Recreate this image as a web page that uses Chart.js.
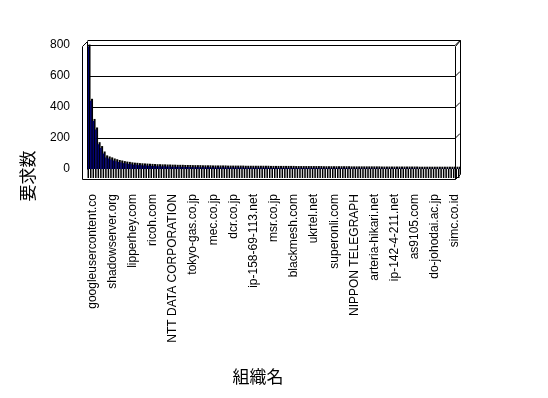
<!DOCTYPE html>
<html lang="ja">
<head>
    <meta charset="UTF-8">
    <title>組織名 別 要求数</title>
    <script src="https://cdn.jsdelivr.net/npm/chart.js"></script>
    <style>
        body{margin:0;background:#fff;}
        #wrap{width:548px;height:398px;}
    </style>
</head>
<body>
    <div id="wrap"><canvas id="chart"></canvas></div>
    <script>
        // organisation names that are printed (every 8th category)
        const shownNames = [
            'googleusercontent.co', 'shadowserver.org', 'lipperhey.com', 'ricoh.com',
            'NTT DATA CORPORATION', 'tokyo-gas.co.jp', 'mec.co.jp', 'dcr.co.jp',
            'ip-158-69-113.net', 'msr.co.jp', 'blackmesh.com', 'ukrtel.net',
            'superonli.com', 'NIPPON TELEGRAPH', 'arteria-hikari.net', 'ip-142-4-211.net',
            'as9105.com', 'do-johodai.ac.jp', 'simc.co.id'
        ];
        const labelStep = 8;

        // number of requests per organisation
        const requests = [
            790, 440, 310, 255, 160, 135, 100, 75, 68, 62,
            55, 50, 45, 42, 38, 35, 33, 30, 28, 27,
            25, 24, 23, 22, 21, 20, 19, 18, 18, 17,
            17, 16, 16, 15, 15, 14, 14, 14, 13, 13,
            13, 12, 12, 12, 12, 11, 11, 11, 11, 10,
            10, 10, 10, 10, 10, 9, 9, 9, 9, 9,
            9, 9, 8, 8, 8, 8, 8, 8, 8, 8,
            8, 8, 7, 7, 7, 7, 7, 7, 7, 7,
            7, 7, 6, 6, 6, 6, 6, 6, 6, 6,
            6, 6, 6, 5, 5, 5, 5, 5, 5, 5,
            5, 5, 5, 5, 4, 4, 4, 4, 4, 4,
            4, 4, 4, 4, 4, 4, 3, 3, 3, 3,
            3, 3, 3, 3, 3, 3, 3, 3, 3, 3,
            3, 2, 2, 2, 2, 2, 2, 2, 2, 2,
            2, 2, 2, 2, 2, 2, 2, 2
        ];

        const yTicks = [0, 200, 400, 600, 800];

        const categories = requests.map((v, i) => i % labelStep === 0 ? (shownNames[i / labelStep] || '') : '');

        const DEPTH = 5;   // 3d offset of the box
        const FLOOR = 10;  // drop of the front floor edge

        const box3d = {
            id: 'box3d',
            beforeDatasetsDraw(chart) {
                const {ctx, chartArea: a, scales: {y}} = chart;
                ctx.save();
                // back wall gridlines + slants on the right side
                ctx.strokeStyle = '#000';
                ctx.lineWidth = 1;
                ctx.beginPath();
                yTicks.forEach(v => {
                    if (v === 0) return;
                    const py = Math.round(y.getPixelForValue(v)) + 0.5;
                    ctx.moveTo(a.left, py);
                    ctx.lineTo(a.right - DEPTH, py);
                    ctx.lineTo(a.right, py - DEPTH);
                });
                ctx.stroke();
                // column depth: floor part and side/top shade
                ctx.fillStyle = '#000';
                chart.getDatasetMeta(0).data.forEach(bar => {
                    const w = bar.width;
                    ctx.fillRect(bar.x - w / 2, bar.base, w, FLOOR - 1);
                    ctx.fillRect(bar.x - w / 2 + 1, bar.y - 2, w + 0.5, bar.base - bar.y + 2);
                });
                ctx.restore();
            },
            afterDraw(chart) {
                const {ctx, chartArea: a} = chart;
                const L = Math.round(a.left) + 0.5, R = Math.round(a.right) + 0.5;
                const T = Math.round(a.top) + 0.5, B = Math.round(a.bottom) + 0.5;
                ctx.save();
                ctx.strokeStyle = '#000';
                ctx.lineWidth = 1;
                ctx.beginPath();
                // back wall
                ctx.moveTo(L, T - DEPTH + 1);
                ctx.lineTo(L, B);
                ctx.moveTo(L, T - DEPTH);
                ctx.lineTo(R, T - DEPTH);
                ctx.lineTo(R, B + DEPTH);
                // front edges
                ctx.moveTo(L, T - DEPTH + 1);
                ctx.lineTo(L - DEPTH, T + 1);
                ctx.lineTo(L - DEPTH, B + FLOOR);
                ctx.lineTo(R - DEPTH, B + FLOOR);
                ctx.lineTo(R, B + DEPTH);
                ctx.moveTo(R - DEPTH, B + FLOOR);
                ctx.lineTo(R - DEPTH, T + 1);
                ctx.lineTo(R, T - DEPTH);
                ctx.stroke();

                // axis titles
                ctx.fillStyle = '#000';
                ctx.font = '17px "Noto Sans CJK JP"';
                ctx.textAlign = 'center';
                ctx.textBaseline = 'middle';
                ctx.fillText('組織名', 258, 377);
                ctx.translate(28, 176);
                ctx.rotate(-Math.PI / 2);
                ctx.fillText('要求数', 0, 0);
                ctx.restore();
            }
        };

        new Chart(document.getElementById('chart'), {
            type: 'bar',
            data: {
                labels: categories,
                datasets: [{
                    data: requests,
                    backgroundColor: '#000070',
                    borderWidth: 0,
                    barPercentage: 0.6,
                    categoryPercentage: 1
                }]
            },
            options: {
                responsive: true,
                maintainAspectRatio: false,
                animation: false,
                events: [],
                layout: {padding: {top: 45, right: 88, left: 0, bottom: 0}},
                plugins: {legend: {display: false}, tooltip: {enabled: false}},
                scales: {
                    x: {
                        grid: {display: false},
                        border: {display: false},
                        ticks: {
                            autoSkip: false,
                            minRotation: 90,
                            maxRotation: 90,
                            padding: 17,
                            labelOffset: 4,
                            color: '#000',
                            font: {family: '"Liberation Sans"', size: 12}
                        },
                        afterFit(scale) { scale.height = 229; }
                    },
                    y: {
                        min: 0,
                        max: 800,
                        grid: {display: false, drawTicks: false},
                        border: {display: false},
                        ticks: {
                            stepSize: 200,
                            padding: 17,
                            color: '#000',
                            font: {family: '"Liberation Sans"', size: 12}
                        },
                        afterFit(scale) { scale.width = 87; }
                    }
                }
            },
            plugins: [box3d]
        });
    </script>
</body>
</html>
